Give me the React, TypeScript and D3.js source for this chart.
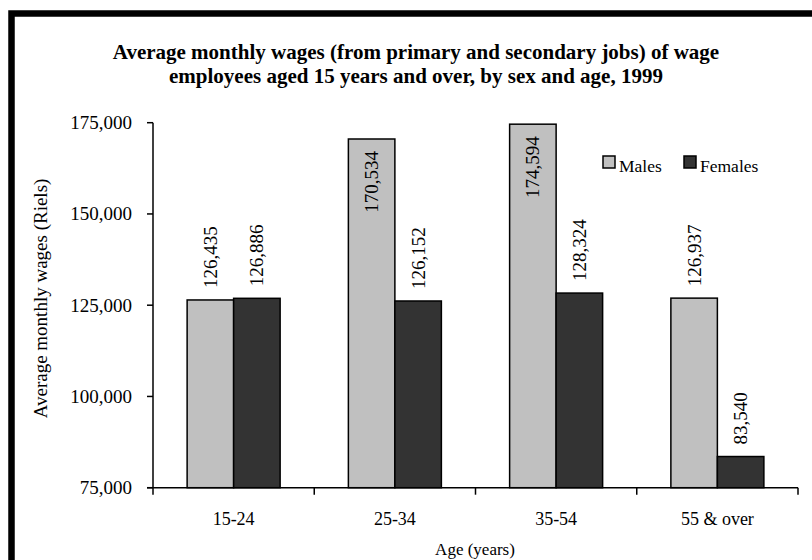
import React from "react";
import * as d3 from "d3";

const categories = ["15-24", "25-34", "35-54", "55 & over"];
const males = [126435, 170534, 174594, 126937];
const females = [126886, 126152, 128324, 83540];
const seriesNames = ["Males", "Females"];
const yTicks = [75000, 100000, 125000, 150000, 175000];
const titleLines = [
  "Average monthly wages (from primary and secondary jobs) of wage",
  "employees aged 15 years and over, by sex and age, 1999",
];
const yTitle = "Average monthly wages (Riels)";
const xTitle = "Age (years)";

const W = 812;
const H = 560;
const FONT = "'Liberation Serif', 'Times New Roman', Times, serif";
const COLORS = ["#c0c0c0", "#333333"];

export default function App() {
  const plotLeft = 153;
  const plotRight = 798;
  const plotTop = 122.7;
  const plotBottom = 487.7;

  const y = d3.scaleLinear().domain([75000, 175000]).range([plotBottom, plotTop]);
  const p = 1 - 93 / 161.25;
  const x0 = d3
    .scaleBand<string>()
    .domain(categories)
    .range([plotLeft, plotRight])
    .paddingInner(p)
    .paddingOuter(p / 2);
  const x1 = d3.scaleBand<string>().domain(seriesNames).range([0, x0.bandwidth()]);
  const fmt = d3.format(",");
  const step = x0.step();
  const boundaries = categories.map((c) => (x0(c) as number) - (step - x0.bandwidth()) / 2);
  boundaries.push(plotRight);

  const data = categories.map((c, i) => ({ cat: c, values: [males[i], females[i]] }));
  const gap = 12;
  const labelLen = 61;

  return (
    <svg
      width={W}
      height={H}
      style={{ position: "absolute", left: 0, top: 0, background: "#fff" }}
      fontFamily={FONT}
    >
      <rect x={0} y={0} width={W} height={H} fill="#fff" />
      <rect
        x={11.5}
        y={13.5}
        width={W + 20}
        height={H + 20}
        fill="none"
        stroke="#000"
        strokeWidth={6.5}
      />
      {titleLines.map((t, i) => (
        <text
          key={i}
          x={416}
          y={59 + i * 23.5}
          textAnchor="middle"
          fontWeight="bold"
          fontSize={21}
          fill="#000"
        >
          {t}
        </text>
      ))}

      {/* bars */}
      {data.map((d) =>
        d.values.map((v, j) => {
          const bx = (x0(d.cat) as number) + (x1(seriesNames[j]) as number);
          const by = y(v);
          const bh = plotBottom - by;
          return (
            <rect
              key={d.cat + j}
              x={bx}
              y={by}
              width={x1.bandwidth()}
              height={Math.max(0, bh)}
              fill={COLORS[j]}
              stroke="#000"
              strokeWidth={1.5}
            />
          );
        })
      )}

      {/* value labels */}
      {data.map((d) =>
        d.values.map((v, j) => {
          const cx = (x0(d.cat) as number) + (x1(seriesNames[j]) as number) + x1.bandwidth() / 2;
          const by = y(v);
          const inside = by - gap - labelLen < plotTop;
          const ty = inside ? by + gap : by - gap;
          return (
            <text
              key={"l" + d.cat + j}
              transform={`translate(${cx},${ty}) rotate(-90)`}
              textAnchor={inside ? "end" : "start"}
              dominantBaseline="central"
              fontSize={19}
              fill="#000"
            >
              {fmt(v)}
            </text>
          );
        })
      )}

      {/* y axis */}
      <line x1={plotLeft} x2={plotLeft} y1={plotTop} y2={plotBottom} stroke="#000" strokeWidth={1.5} />
      {yTicks.map((t) => (
        <g key={t}>
          <line x1={plotLeft - 6} x2={plotLeft} y1={y(t)} y2={y(t)} stroke="#000" strokeWidth={1.5} />
          <text
            x={132}
            y={y(t)}
            textAnchor="end"
            dominantBaseline="central"
            fontSize={19}
            fill="#000"
          >
            {fmt(t)}
          </text>
        </g>
      ))}

      {/* x axis */}
      <line x1={plotLeft - 6} x2={plotRight} y1={plotBottom} y2={plotBottom} stroke="#000" strokeWidth={1.5} />
      {boundaries.map((b, i) => (
        <line key={i} x1={b} x2={b} y1={plotBottom} y2={plotBottom + 7} stroke="#000" strokeWidth={1.5} />
      ))}
      {categories.map((c) => (
        <text
          key={c}
          x={(x0(c) as number) + x0.bandwidth() / 2}
          y={525}
          textAnchor="middle"
          fontSize={18}
          fill="#000"
        >
          {c}
        </text>
      ))}

      <text
        transform={`translate(40,298.5) rotate(-90)`}
        textAnchor="middle"
        dominantBaseline="central"
        fontSize={19}
        fill="#000"
      >
        {yTitle}
      </text>
      <text x={475} y={555} textAnchor="middle" fontSize={17} fill="#000">
        {xTitle}
      </text>

      {/* legend */}
      {seriesNames.map((s, i) => {
        const lx = i === 0 ? 603 : 684;
        return (
          <g key={s}>
            <rect x={lx} y={156} width={12} height={12} fill={COLORS[i]} stroke="#000" strokeWidth={1.5} />
            <text x={lx + 16} y={172} fontSize={17.5} fill="#000">
              {s}
            </text>
          </g>
        );
      })}
    </svg>
  );
}
